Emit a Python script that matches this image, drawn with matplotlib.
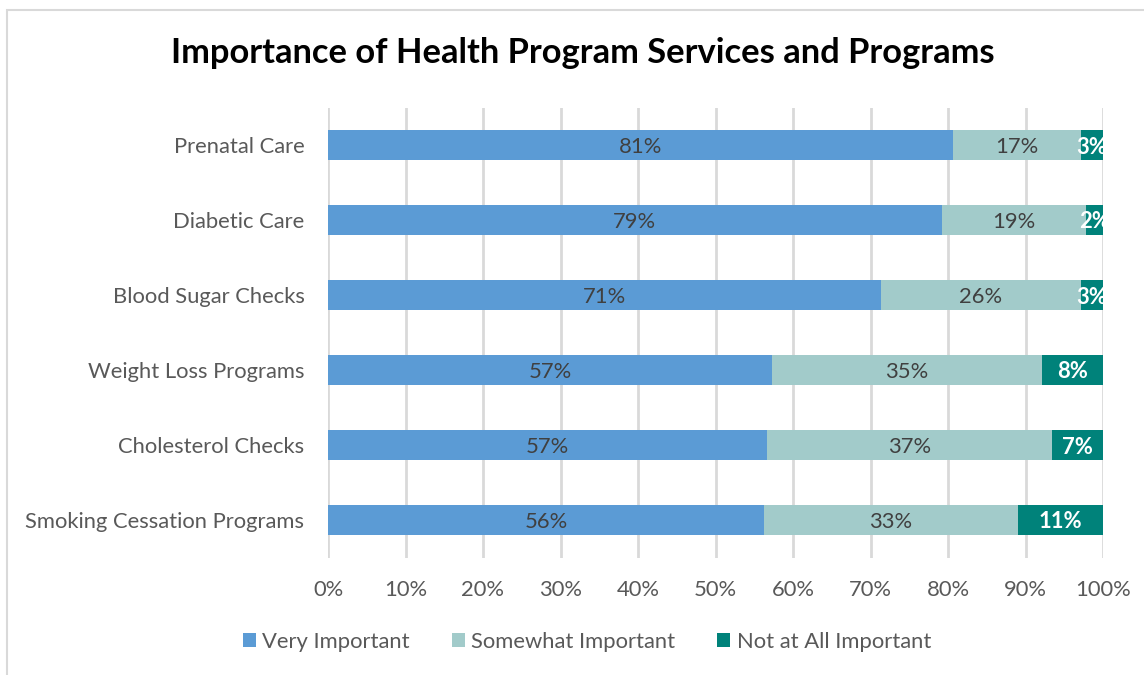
import matplotlib
matplotlib.use("Agg")
import matplotlib.pyplot as plt
from matplotlib.patches import Rectangle
import numpy as np

plt.rcParams['font.family'] = ['Lato', 'DejaVu Sans']

categories = ["Prenatal Care", "Diabetic Care", "Blood Sugar Checks",
              "Weight Loss Programs", "Cholesterol Checks", "Smoking Cessation Programs"]
very_important = [80.6, 79.2, 71.4, 57.3, 56.6, 56.3]
somewhat_important = [16.6, 18.6, 25.7, 34.8, 36.8, 32.7]
not_important = [2.8, 2.2, 2.9, 7.9, 6.6, 11.0]
series_names = ["Very Important", "Somewhat Important", "Not at All Important"]
colors = ["#5B9BD5", "#A2CBCA", "#00827A"]
xticks = [0, 10, 20, 30, 40, 50, 60, 70, 80, 90, 100]

FS = 15.8
W, H = 1144, 675
fig = plt.figure(figsize=(W / 100, H / 100), dpi=100)
ax = fig.add_axes([328 / W, 1 - 557.5 / H, (1103 - 328) / W, (557.5 - 107.5) / H])

y = np.arange(len(categories))
series = [very_important, somewhat_important, not_important]
left = np.zeros(len(categories))
for i, (vals, col) in enumerate(zip(series, colors)):
    vals = np.array(vals)
    ax.barh(y, vals, left=left, height=0.4, color=col, label=series_names[i], zorder=3)
    for yi, (l, v) in enumerate(zip(left, vals)):
        if i == 2:
            ax.text(l + v / 2, yi, f"{v:.0f}%", ha='center', va='center_baseline', color='white',
                    fontsize=FS, fontweight='bold', zorder=4)
        else:
            ax.text(l + v / 2, yi, f"{v:.0f}%", ha='center', va='center_baseline', color='#404040',
                    fontsize=FS, zorder=4)
    left = left + vals

ax.set_xlim(0, 100)
ax.set_ylim(len(categories) - 0.5, -0.5)
ax.set_yticks(y)
ax.set_yticklabels(categories)
ax.set_xticks(xticks)
ax.set_xticklabels([f"{t}%" for t in xticks])
ax.tick_params(axis='both', length=0, labelsize=FS, labelcolor='#595959')
ax.tick_params(axis='y', pad=17)
ax.tick_params(axis='x', pad=16)
ax.grid(axis='x', color='#D9D9D9', linewidth=2, zorder=0)
for s in ax.spines.values():
    s.set_visible(False)

fig.text(583 / W, 1 - 53 / H, "Importance of Health Program Services and Programs",
         ha='center', va='center', fontsize=24.8, fontweight='bold', color='black')

handles, labels = ax.get_legend_handles_labels()
leg = fig.legend(handles, labels, loc='center', bbox_to_anchor=(587 / W, 1 - 642 / H),
                 ncol=3, frameon=False, fontsize=FS, handlelength=0.6, handleheight=0.6,
                 handletextpad=0.3, columnspacing=1.9)
for t in leg.get_texts():
    t.set_color('#595959')

border = Rectangle((7 / W, -0.1), 1.2, 1 - 10 / H + 0.1, transform=fig.transFigure,
                   fill=False, edgecolor='#D9D9D9', linewidth=1.5)
fig.patches.append(border)

fig.savefig("out.png", dpi=100)
